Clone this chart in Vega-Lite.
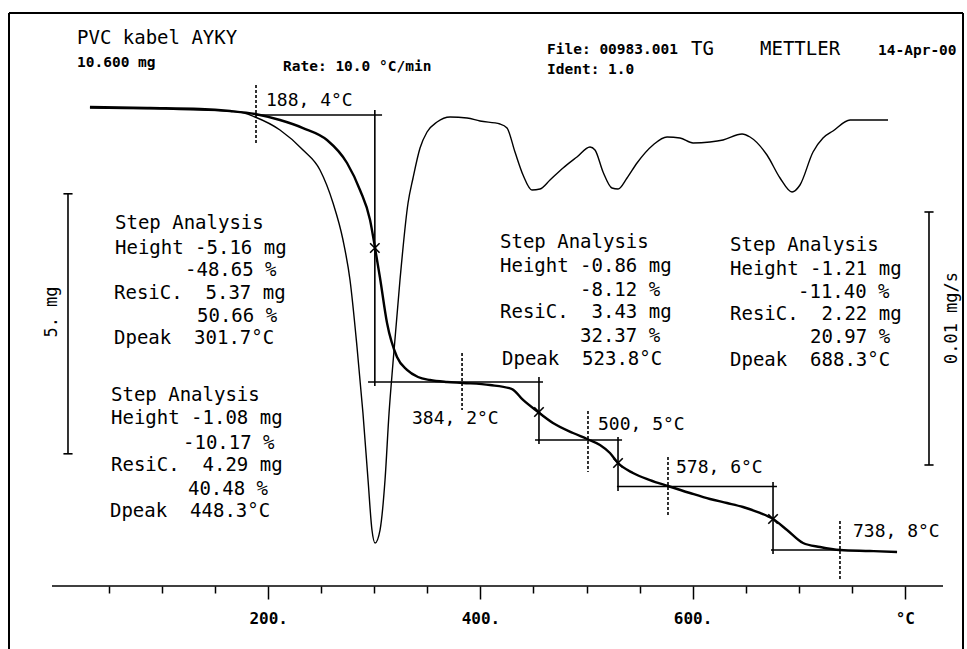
{
  "$schema": "https://vega.github.io/schema/vega-lite/v6.json",
  "width": 954,
  "height": 636,
  "autosize": {"type": "none"},
  "padding": {"left": 9, "top": 13, "right": 4, "bottom": 0},
  "background": "white",
  "config": {"view": {"stroke": null}},
  "datasets": {
    "tg": [
      {"T": 32.0, "m": 10.619}, {"T": 88.6, "m": 10.6}, {"T": 135.7, "m": 10.581}, {"T": 164.0, "m": 10.542},
      {"T": 187.6, "m": 10.485}, {"T": 211.1, "m": 10.369}, {"T": 232.8, "m": 10.215}, {"T": 255.4, "m": 9.985},
      {"T": 274.3, "m": 9.542}, {"T": 286.5, "m": 9.023}, {"T": 296.0, "m": 8.446}, {"T": 300.7, "m": 7.908},
      {"T": 305.4, "m": 7.331}, {"T": 312.0, "m": 6.465}, {"T": 321.4, "m": 5.812}, {"T": 330.8, "m": 5.562},
      {"T": 341.2, "m": 5.427}, {"T": 352.5, "m": 5.369}, {"T": 368.5, "m": 5.331}, {"T": 383.6, "m": 5.312},
      {"T": 409.0, "m": 5.273}, {"T": 429.8, "m": 5.196}, {"T": 440.2, "m": 4.985}, {"T": 454.3, "m": 4.754},
      {"T": 468.4, "m": 4.542}, {"T": 487.3, "m": 4.35}, {"T": 500.5, "m": 4.235}, {"T": 512.7, "m": 4.119},
      {"T": 522.1, "m": 3.965}, {"T": 529.7, "m": 3.773}, {"T": 543.8, "m": 3.581}, {"T": 559.8, "m": 3.446},
      {"T": 576.8, "m": 3.331}, {"T": 597.5, "m": 3.196}, {"T": 616.4, "m": 3.081}, {"T": 632.4, "m": 3.004},
      {"T": 647.5, "m": 2.927}, {"T": 663.5, "m": 2.812}, {"T": 675.8, "m": 2.696}, {"T": 689.0, "m": 2.485},
      {"T": 704.1, "m": 2.235}, {"T": 720.1, "m": 2.158}, {"T": 739.0, "m": 2.1}, {"T": 767.2, "m": 2.081},
      {"T": 792.7, "m": 2.062}
    ],
    "dtg": [
      {"T": 32.0, "d": 0.000474}, {"T": 135.7, "d": 0.000395}, {"T": 173.4, "d": 0.000316}, {"T": 187.6, "d": 0.000119},
      {"T": 211.1, "d": -0.000395}, {"T": 232.8, "d": -0.001186}, {"T": 248.8, "d": -0.001976}, {"T": 261.1, "d": -0.003281},
      {"T": 270.5, "d": -0.004743}, {"T": 277.1, "d": -0.006324}, {"T": 283.7, "d": -0.008972}, {"T": 289.3, "d": -0.011581},
      {"T": 294.1, "d": -0.014229}, {"T": 297.8, "d": -0.016206}, {"T": 300.7, "d": -0.016719}, {"T": 305.4, "d": -0.016206},
      {"T": 310.1, "d": -0.014229}, {"T": 313.9, "d": -0.011581}, {"T": 317.6, "d": -0.009605}, {"T": 324.2, "d": -0.006324},
      {"T": 331.8, "d": -0.003281}, {"T": 336.5, "d": -0.002292}, {"T": 343.1, "d": -0.001107}, {"T": 349.7, "d": -0.000474},
      {"T": 359.1, "d": -0.000079}, {"T": 371.4, "d": 0.000119}, {"T": 387.4, "d": 0.000079}, {"T": 399.6, "d": -0.00004},
      {"T": 418.5, "d": -0.000158}, {"T": 425.1, "d": -0.000316}, {"T": 432.6, "d": -0.001265}, {"T": 440.2, "d": -0.002174},
      {"T": 448.6, "d": -0.002767}, {"T": 456.2, "d": -0.002727}, {"T": 465.6, "d": -0.002372}, {"T": 477.9, "d": -0.001897},
      {"T": 491.0, "d": -0.001462}, {"T": 503.3, "d": -0.001067}, {"T": 508.0, "d": -0.001186}, {"T": 515.6, "d": -0.002055},
      {"T": 524.0, "d": -0.002688}, {"T": 529.7, "d": -0.002727}, {"T": 538.2, "d": -0.002292}, {"T": 547.6, "d": -0.0017},
      {"T": 562.7, "d": -0.000988}, {"T": 575.9, "d": -0.000672}, {"T": 588.1, "d": -0.000711}, {"T": 600.4, "d": -0.000909},
      {"T": 616.4, "d": -0.00087}, {"T": 628.7, "d": -0.000791}, {"T": 646.6, "d": -0.000553}, {"T": 654.1, "d": -0.000672},
      {"T": 670.1, "d": -0.001383}, {"T": 682.4, "d": -0.002292}, {"T": 693.7, "d": -0.002846}, {"T": 701.2, "d": -0.002569},
      {"T": 713.5, "d": -0.001265}, {"T": 722.9, "d": -0.000711}, {"T": 732.3, "d": -0.000435}, {"T": 748.4, "d": 0.0},
      {"T": 784.2, "d": 0.0}
    ],
    "seg": [
      {"T1": 188.4, "T2": 307.3, "m1": 10.465, "m2": 10.465},
      {"T1": 300.5, "T2": 300.5, "m1": 10.56, "m2": 5.254},
      {"T1": 294.1, "T2": 459.0, "m1": 5.331, "m2": 5.331},
      {"T1": 455.2, "T2": 455.2, "m1": 5.427, "m2": 4.138},
      {"T1": 451.5, "T2": 533.5, "m1": 4.215, "m2": 4.215},
      {"T1": 529.7, "T2": 529.7, "m1": 4.273, "m2": 3.235},
      {"T1": 528.7, "T2": 679.5, "m1": 3.32, "m2": 3.32},
      {"T1": 675.8, "T2": 675.8, "m1": 3.408, "m2": 2.023},
      {"T1": 673.9, "T2": 740.8, "m1": 2.1, "m2": 2.1},
      {"T1": 11.3, "T2": 11.3, "m1": 8.95, "m2": 3.95},
      {"T1": 7.0, "T2": 15.6, "m1": 8.95, "m2": 8.95},
      {"T1": 7.0, "T2": 15.6, "m1": 3.95, "m2": 3.95},
      {"T1": -3.77, "T2": 836.0, "m1": 1.4077, "m2": 1.4077}
    ],
    "dash": [
      {"T": 188.5, "m1": 11.042, "m2": 9.888},
      {"T": 382.7, "m1": 5.888, "m2": 4.792},
      {"T": 501.4, "m1": 4.773, "m2": 3.6},
      {"T": 576.8, "m1": 3.888, "m2": 2.735},
      {"T": 738.9, "m1": 2.658, "m2": 1.523}
    ],
    "stars": [
      {"T": 300.5, "m": 7.908}, {"T": 455.2, "m": 4.754}, {"T": 529.7, "m": 3.773}, {"T": 675.8, "m": 2.696}
    ],
    "dbar": [
      {"T1": 822.8, "T2": 822.8, "d1": -0.003636, "d2": -0.013636},
      {"T1": 818.5, "T2": 827.1, "d1": -0.003636, "d2": -0.003636},
      {"T1": 818.5, "T2": 827.1, "d1": -0.013636, "d2": -0.013636}
    ],
    "hdrReg": [
      {"T": 19.79, "m": 11.946, "txt": "PVC kabel AYKY"},
      {"T": 598.49, "m": 11.735, "txt": "TG"},
      {"T": 663.52, "m": 11.735, "txt": "METTLER"}
    ],
    "hdrBold": [
      {"T": 19.79, "m": 11.465, "txt": "10.600 mg"},
      {"T": 213.95, "m": 11.389, "txt": "Rate: 10.0 °C/min"},
      {"T": 462.77, "m": 11.715, "txt": "File: 00983.001"},
      {"T": 462.77, "m": 11.331, "txt": "Ident: 1.0"},
      {"T": 774.74, "m": 11.696, "txt": "14-Apr-00"}
    ],
    "notes": [
      {"T": 55.61, "m": 8.3885, "txt": "Step Analysis"},
      {"T": 55.61, "m": 7.9077, "txt": "Height -5.16 mg"},
      {"T": 121.58, "m": 7.4846, "txt": "-48.65 %"},
      {"T": 54.67, "m": 7.0423, "txt": "ResiC.\u00a0\u00a05.37 mg"},
      {"T": 132.89, "m": 6.6, "txt": "50.66 %"},
      {"T": 54.67, "m": 6.1769, "txt": "Dpeak\u00a0\u00a0301.7°C"},
      {"T": 51.84, "m": 5.0808, "txt": "Step Analysis"},
      {"T": 51.84, "m": 4.6385, "txt": "Height -1.08 mg"},
      {"T": 119.7, "m": 4.1577, "txt": "-10.17 %"},
      {"T": 51.84, "m": 3.7346, "txt": "ResiC.\u00a0\u00a04.29 mg"},
      {"T": 124.4, "m": 3.2731, "txt": "40.48 %"},
      {"T": 50.89, "m": 2.85, "txt": "Dpeak\u00a0\u00a0448.3°C"},
      {"T": 418.47, "m": 8.0231, "txt": "Step Analysis"},
      {"T": 418.47, "m": 7.5615, "txt": "Height -0.86 mg"},
      {"T": 493.87, "m": 7.1, "txt": "-8.12 %"},
      {"T": 418.47, "m": 6.6769, "txt": "ResiC.\u00a0\u00a03.43 mg"},
      {"T": 493.87, "m": 6.2154, "txt": "32.37 %"},
      {"T": 420.36, "m": 5.7731, "txt": "Dpeak\u00a0\u00a0523.8°C"},
      {"T": 635.25, "m": 7.9654, "txt": "Step Analysis"},
      {"T": 635.25, "m": 7.5038, "txt": "Height -1.21 mg"},
      {"T": 699.34, "m": 7.0615, "txt": "-11.40 %"},
      {"T": 635.25, "m": 6.6385, "txt": "ResiC.\u00a0\u00a02.22 mg"},
      {"T": 710.65, "m": 6.1962, "txt": "20.97 %"},
      {"T": 635.25, "m": 5.7538, "txt": "Dpeak\u00a0\u00a0688.3°C"}
    ],
    "temps": [
      {"T": 197.93, "m": 10.735, "txt": "188, 4°C"},
      {"T": 335.53, "m": 4.619, "txt": "384, 2°C"},
      {"T": 510.84, "m": 4.504, "txt": "500, 5°C"},
      {"T": 584.35, "m": 3.677, "txt": "578, 6°C"},
      {"T": 751.18, "m": 2.446, "txt": "738, 8°C"}
    ],
    "rot": [
      {"T": -3.8, "m": 6.677, "txt": "5. mg"},
      {"T": 844.5, "m": 6.5615, "txt": "0.01 mg/s"}
    ]
  },
  "layer": [
    {
      "layer": [
        {
          "data": {"name": "tg"},
          "mark": {"type": "line", "color": "black", "strokeWidth": 2.4, "interpolate": "monotone"},
          "encoding": {
            "x": {"field": "T", "type": "quantitative", "scale": {"domain": [-44.3, 854.85], "nice": false, "zero": false},
              "axis": {
                "orient": "bottom", "offset": -63, "domain": false, "grid": false, "title": null,
                "values": [50, 100, 150, 200, 250, 300, 350, 400, 450, 500, 550, 600, 650, 700, 750, 800],
                "tickSize": {"condition": {"test": "datum.value % 200 === 0", "value": 13}, "value": 7},
                "tickWidth": 1.5, "tickColor": "black",
                "labelExpr": "datum.value === 800 ? '°C' : (datum.value % 200 === 0 ? datum.value + '.' : '')",
                "labelFont": "DejaVu Sans Mono", "labelFontWeight": "bold", "labelFontSize": 16, "labelColor": "black",
                "labelPadding": 11, "labelOverlap": false, "labelFlush": false
              }},
            "y": {"field": "m", "type": "quantitative", "scale": {"domain": [0.19615, 12.42692], "nice": false, "zero": false}, "axis": null}
          }
        },
        {
          "data": {"name": "seg"},
          "mark": {"type": "rule", "color": "black", "strokeWidth": 1.6},
          "encoding": {
            "x": {"field": "T1", "type": "quantitative", "scale": {"domain": [-44.3, 854.85], "nice": false, "zero": false}},
            "x2": {"field": "T2"},
            "y": {"field": "m1", "type": "quantitative", "scale": {"domain": [0.19615, 12.42692], "nice": false, "zero": false}, "axis": null},
            "y2": {"field": "m2"}
          }
        },
        {
          "data": {"name": "dash"},
          "mark": {"type": "rule", "color": "black", "strokeWidth": 1.6, "strokeDash": [3, 2]},
          "encoding": {
            "x": {"field": "T", "type": "quantitative", "scale": {"domain": [-44.3, 854.85], "nice": false, "zero": false}},
            "y": {"field": "m1", "type": "quantitative", "scale": {"domain": [0.19615, 12.42692], "nice": false, "zero": false}, "axis": null},
            "y2": {"field": "m2"}
          }
        },
        {
          "data": {"name": "stars"},
          "mark": {"type": "point", "shape": "M-1,-1L1,1M-1,1L1,-1", "filled": false, "color": "black", "strokeWidth": 1.6, "size": 90, "opacity": 1},
          "encoding": {
            "x": {"field": "T", "type": "quantitative", "scale": {"domain": [-44.3, 854.85], "nice": false, "zero": false}},
            "y": {"field": "m", "type": "quantitative", "scale": {"domain": [0.19615, 12.42692], "nice": false, "zero": false}, "axis": null}
          }
        },
        {
          "data": {"values": [{}]},
          "mark": {"type": "rule", "color": "black", "strokeWidth": 2},
          "encoding": {
            "x": {"datum": -44.3, "type": "quantitative", "scale": {"domain": [-44.3, 854.85], "nice": false, "zero": false}},
            "y": {"datum": 0.19615, "type": "quantitative", "scale": {"domain": [0.19615, 12.42692], "nice": false, "zero": false}, "axis": null},
            "y2": {"datum": 12.42692}
          }
        },
        {
          "data": {"values": [{}]},
          "mark": {"type": "rule", "color": "black", "strokeWidth": 2},
          "encoding": {
            "x": {"datum": 854.85, "type": "quantitative", "scale": {"domain": [-44.3, 854.85], "nice": false, "zero": false}},
            "y": {"datum": 0.19615, "type": "quantitative", "scale": {"domain": [0.19615, 12.42692], "nice": false, "zero": false}, "axis": null},
            "y2": {"datum": 12.42692}
          }
        },
        {
          "data": {"values": [{}]},
          "mark": {"type": "rule", "color": "black", "strokeWidth": 2},
          "encoding": {
            "x": {"datum": -44.3, "type": "quantitative", "scale": {"domain": [-44.3, 854.85], "nice": false, "zero": false}},
            "x2": {"datum": 854.85},
            "y": {"datum": 12.42692, "type": "quantitative", "scale": {"domain": [0.19615, 12.42692], "nice": false, "zero": false}, "axis": null}
          }
        },
        {
          "data": {"name": "hdrReg"},
          "mark": {"type": "text", "font": "DejaVu Sans Mono", "fontSize": 19, "align": "left", "baseline": "middle", "color": "black"},
          "encoding": {
            "x": {"field": "T", "type": "quantitative", "scale": {"domain": [-44.3, 854.85], "nice": false, "zero": false}},
            "y": {"field": "m", "type": "quantitative", "scale": {"domain": [0.19615, 12.42692], "nice": false, "zero": false}, "axis": null},
            "text": {"field": "txt"}
          }
        },
        {
          "data": {"name": "hdrBold"},
          "mark": {"type": "text", "font": "DejaVu Sans Mono", "fontSize": 14.5, "fontWeight": "bold", "align": "left", "baseline": "middle", "color": "black"},
          "encoding": {
            "x": {"field": "T", "type": "quantitative", "scale": {"domain": [-44.3, 854.85], "nice": false, "zero": false}},
            "y": {"field": "m", "type": "quantitative", "scale": {"domain": [0.19615, 12.42692], "nice": false, "zero": false}, "axis": null},
            "text": {"field": "txt"}
          }
        },
        {
          "data": {"name": "notes"},
          "mark": {"type": "text", "font": "DejaVu Sans Mono", "fontSize": 19, "align": "left", "baseline": "middle", "color": "black"},
          "encoding": {
            "x": {"field": "T", "type": "quantitative", "scale": {"domain": [-44.3, 854.85], "nice": false, "zero": false}},
            "y": {"field": "m", "type": "quantitative", "scale": {"domain": [0.19615, 12.42692], "nice": false, "zero": false}, "axis": null},
            "text": {"field": "txt"}
          }
        },
        {
          "data": {"name": "temps"},
          "mark": {"type": "text", "font": "DejaVu Sans Mono", "fontSize": 18, "align": "left", "baseline": "middle", "color": "black"},
          "encoding": {
            "x": {"field": "T", "type": "quantitative", "scale": {"domain": [-44.3, 854.85], "nice": false, "zero": false}},
            "y": {"field": "m", "type": "quantitative", "scale": {"domain": [0.19615, 12.42692], "nice": false, "zero": false}, "axis": null},
            "text": {"field": "txt"}
          }
        },
        {
          "data": {"name": "rot"},
          "mark": {"type": "text", "font": "DejaVu Sans Mono", "fontSize": 17, "align": "center", "baseline": "middle", "angle": 270, "color": "black"},
          "encoding": {
            "x": {"field": "T", "type": "quantitative", "scale": {"domain": [-44.3, 854.85], "nice": false, "zero": false}},
            "y": {"field": "m", "type": "quantitative", "scale": {"domain": [0.19615, 12.42692], "nice": false, "zero": false}, "axis": null},
            "text": {"field": "txt"}
          }
        }
      ]
    },
    {
      "layer": [
        {
          "data": {"name": "dtg"},
          "mark": {"type": "line", "color": "black", "strokeWidth": 1.4, "interpolate": "monotone"},
          "encoding": {
            "x": {"field": "T", "type": "quantitative", "scale": {"domain": [-44.3, 854.85], "nice": false, "zero": false}},
            "y": {"field": "d", "type": "quantitative", "scale": {"domain": [-0.0209091, 0.0042292], "nice": false, "zero": false}, "axis": null}
          }
        },
        {
          "data": {"name": "dbar"},
          "mark": {"type": "rule", "color": "black", "strokeWidth": 1.6},
          "encoding": {
            "x": {"field": "T1", "type": "quantitative", "scale": {"domain": [-44.3, 854.85], "nice": false, "zero": false}},
            "x2": {"field": "T2"},
            "y": {"field": "d1", "type": "quantitative", "scale": {"domain": [-0.0209091, 0.0042292], "nice": false, "zero": false}, "axis": null},
            "y2": {"field": "d2"}
          }
        }
      ]
    }
  ],
  "resolve": {"scale": {"y": "independent"}}
}
